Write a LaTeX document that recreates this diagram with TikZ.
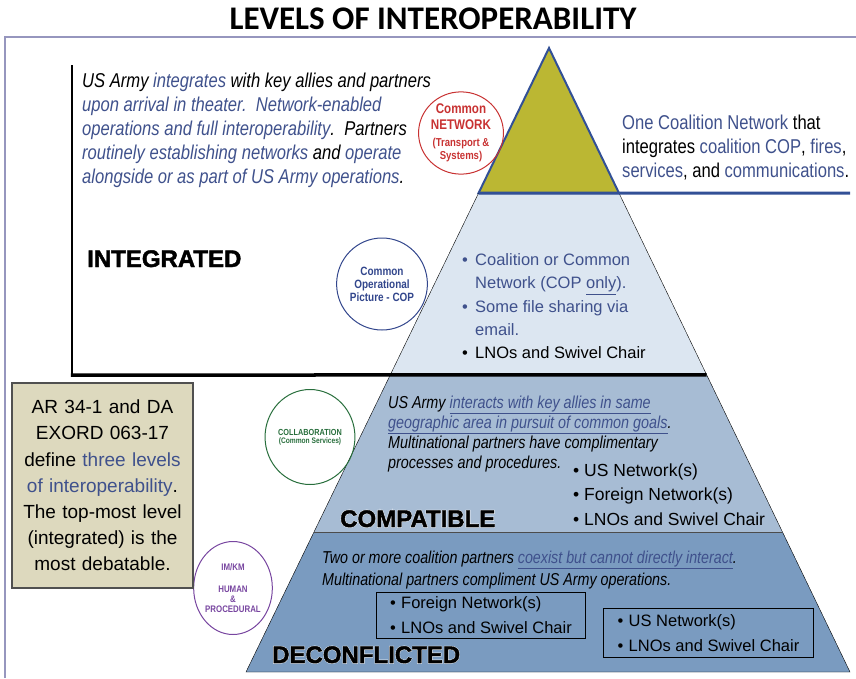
\documentclass[tikz,border=0pt]{standalone}
\usepackage{fontspec}
\usepackage{tikz}
\usetikzlibrary{calc,shapes.geometric}
\setmainfont{Liberation Sans}
\newfontfamily\titlefont{Carlito}
\newfontfamily\narrowfont{Liberation Sans}[FakeStretch=0.83]
\newfontfamily\heavyfont{Liberation Sans}[BoldFeatures={FakeBold=1.8}]
\newfontfamily\halofont{Liberation Sans}[BoldFeatures={FakeBold=5}]
\definecolor{txtblue}{RGB}{63,81,140}
\definecolor{olivec}{RGB}{187,183,51}
\definecolor{tierA}{RGB}{220,230,241}
\definecolor{tierB}{RGB}{167,188,212}
\definecolor{tierC}{RGB}{122,155,192}
\definecolor{framec}{RGB}{150,150,190}
\definecolor{beige}{RGB}{221,217,190}
\definecolor{notegray}{RGB}{80,80,80}
\definecolor{netred}{RGB}{200,50,50}
\definecolor{copblue}{RGB}{50,70,140}
\definecolor{colgreen}{RGB}{40,110,60}
\definecolor{humpurple}{RGB}{120,70,160}
\definecolor{triblue}{RGB}{50,80,150}
\newcommand{\blu}[1]{\textcolor{txtblue}{#1}}
\newcommand{\bul}[1][11pt]{\makebox[#1][l]{\textbullet}}
\tikzset{
  txt/.style={anchor=north west,inner sep=0pt,align=left},
  ring/.style={ellipse,line width=1pt,inner sep=0pt,align=center},
  level/.style={anchor=base west,inner sep=0pt,font=\heavyfont\bfseries\fontsize{24}{26}\selectfont},
  halo/.style={anchor=base west,inner sep=0pt,text=white,font=\halofont\bfseries\fontsize{24}{26}\selectfont},
  netbox/.style={draw,line width=1pt,anchor=north west,inner sep=0pt,align=left,font=\fontsize{16.5}{25}\selectfont}
}
\begin{document}
\begin{tikzpicture}[x=1pt,y=-1pt]
        \useasboundingbox (0,0) rectangle (856,678);
        \coordinate (Top) at (549,48);
        \coordinate (BL) at (246,672);
        \coordinate (BR) at (850,672);
        \coordinate (L1) at ($(Top)!0.2324!(BL)$);
        \coordinate (R1) at ($(Top)!0.2324!(BR)$);
        \coordinate (L2) at ($(Top)!0.524!(BL)$);
        \coordinate (R2) at ($(Top)!0.524!(BR)$);
        \coordinate (L3) at ($(Top)!0.7756!(BL)$);
        \coordinate (R3) at ($(Top)!0.7756!(BR)$);
        \fill[tierC] (L3) -- (R3) -- (BR) -- (BL) -- cycle;
        \fill[tierB] (L2) -- (R2) -- (R3) -- (L3) -- cycle;
        \fill[tierA] (L1) -- (R1) -- (R2) -- (L2) -- cycle;
        \draw[line width=2pt, draw=triblue, fill=olivec] (Top) -- (R1) -- (L1) -- cycle;
        \draw (L1) -- (BL) -- (BR) -- (R1);
        \draw[gray!60!black] (L3) -- (R3);
        \draw[line width=3pt, triblue] (L1) -- (850,193);
        \draw[line width=2.5pt] (72,65) -- (72,375);
        \draw[line width=3.5pt] (70.75,375) -- (R2);
        \draw[line width=1.5pt, framec] (5,678) -- (5,37) -- (856,37);

        \draw (433,19) node (Title) [font=\titlefont\bfseries\fontsize{33}{36}\selectfont] {LEVELS OF INTEROPERABILITY};

        \draw (82,72.5) node (Intro) [txt,font={\narrowfont\itshape\fontsize{20}{24.2}\selectfont}] {US Army \blu{integrates} with key allies and partners\\ \blu{upon arrival in theater.\ \ Network-enabled}\\ \blu{operations and full interoperability}.\ \ Partners\\ \blu{routinely establishing networks} and \blu{operate}\\ \blu{alongside or as part of US Army operations}.};
        \draw (622,115) node (Right) [txt,font={\narrowfont\fontsize{20}{24}\selectfont}] {\blu{One Coalition Network} that\\ integrates \blu{coalition COP}, \blu{fires},\\ \blu{services}, and \blu{communications}.};

        \draw (461,133) node (NetC) [ring,draw=netred,text=netred,minimum width=72pt,minimum height=81pt,font={\narrowfont\bfseries\fontsize{14}{16}\selectfont}] {Common\\ NETWORK\\[1pt] {\fontsize{11.5}{13}\selectfont(Transport \&}\\[-3pt] {\fontsize{11.5}{13}\selectfont Systems)}};
        \draw (382,284) node (CopC) [ring,draw=copblue,text=copblue,minimum width=79pt,minimum height=92pt,font={\narrowfont\bfseries\fontsize{12}{13}\selectfont}] {Common\\ Operational\\ Picture - COP};
        \draw (310,437) node (ColC) [ring,draw=colgreen,text=colgreen,minimum width=70pt,minimum height=95pt,font={\narrowfont\bfseries\fontsize{8.8}{8.5}\selectfont}] {COLLABORATION\\ {\fontsize{8}{8.5}\selectfont(Common Services)}};
        \draw (233,588) node (HumC) [ring,draw=humpurple,text=humpurple,minimum width=75pt,minimum height=93pt,font={\narrowfont\bfseries\fontsize{9.5}{10}\selectfont}] {IM/KM\\[12pt] HUMAN\\ \&\\ PROCEDURAL};

        \draw (87,267) node (LInt) [level] {INTEGRATED};
        \draw (462,253.5) node (Tier2) [txt,font={\fontsize{16.5}{23.3}\selectfont}] {\blu{\bul[13pt]Coalition or Common}\\ \blu{\hspace*{13pt}Network (COP \underline{only}).}\\ \blu{\bul[13pt]Some file sharing via}\\ \blu{\hspace*{13pt}email.}\\ \bul[13pt]LNOs and Swivel Chair};

        \draw (102.5,485.5) node (Note) [draw=notegray,fill=beige,line width=1.2pt,minimum width=181pt,minimum height=205pt,text width=175pt,align=center,inner sep=0pt,font={\fontsize{19}{26.2}\selectfont}] {AR 34-1 and DA\\ EXORD 063-17\\ define \blu{three levels}\\ \blu{of interoperability}.\\ The top-most level\\ (integrated) is the\\ most debatable.};

        \draw (388,395.5) node (Comp) [txt,font={\narrowfont\itshape\fontsize{17.3}{20}\selectfont}] {US Army \blu{\underline{interacts with key allies in same}}\\ \blu{\underline{geographic area in pursuit of common goals}}.\\ Multinational partners have complimentary\\ processes and procedures.};
        \draw (573,463.5) node (CompB) [txt,font={\fontsize{17.5}{24.5}\selectfont}] {\bul US Network(s)\\ \bul Foreign Network(s)\\ \bul LNOs and Swivel Chair};
        \draw (340,527) node [halo] {COMPATIBLE};
        \draw (340,527) node (LComp) [level] {COMPATIBLE};

        \draw (322,550.5) node (Dec) [txt,font={\narrowfont\itshape\fontsize{17.2}{22}\selectfont}] {Two or more coalition partners \blu{\underline{coexist but cannot directly interact}}.\\ Multinational partners compliment US Army operations.};
        \draw (376,592) node (DecA) [netbox,minimum width=209pt,minimum height=46pt] {\bul Foreign Network(s)\\ \bul LNOs and Swivel Chair};
        \draw (603,608) node (DecB) [netbox,minimum width=210pt,minimum height=49pt] {\bul US Network(s)\\ \bul LNOs and Swivel Chair};
        \draw (272,663) node [halo] {DECONFLICTED};
        \draw (272,663) node (LDec) [level] {DECONFLICTED};
\end{tikzpicture}
\end{document}
